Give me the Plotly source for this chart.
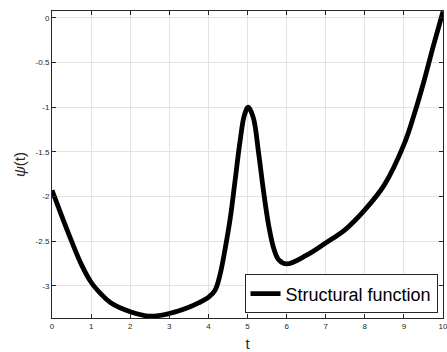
import plotly.graph_objects as go

# values
t = [0, 0.25, 0.5, 0.75, 1, 1.25, 1.5, 2, 2.5, 3, 3.5, 3.75, 4, 4.17, 4.3, 4.43, 4.56,
     4.68, 4.81, 4.92, 5.02, 5.15, 5.28, 5.41, 5.54, 5.67, 5.8, 6, 6.5, 7, 7.5, 8, 8.5,
     9, 9.25, 9.5, 9.75, 10]
psi = [-1.93, -2.22, -2.50, -2.76, -2.96, -3.09, -3.19, -3.29, -3.34, -3.31, -3.24, -3.19,
       -3.13, -3.05, -2.87, -2.58, -2.24, -1.83, -1.38, -1.09, -1.0, -1.12, -1.5, -1.94,
       -2.32, -2.58, -2.71, -2.755, -2.66, -2.52, -2.37, -2.15, -1.87, -1.42, -1.10, -0.73,
       -0.32, 0.07]

xticks = [0, 1, 2, 3, 4, 5, 6, 7, 8, 9, 10]
yticks = [0, -0.5, -1, -1.5, -2, -2.5, -3]
ylabels = ['0', '-0.5', '-1', '-1.5', '-2', '-2.5', '-3']

fig = go.Figure()
fig.add_trace(go.Scatter(
    x=t, y=psi,
    mode='lines',
    line=dict(color='black', width=4.8, shape='spline', smoothing=1.0),
    name='Structural function',
))

axis_common = dict(
    showline=True, linecolor='#262626', linewidth=1,
    mirror='ticks', ticks='inside', ticklen=4, tickcolor='#262626',
    showgrid=True, gridcolor='#e3e3e3', gridwidth=1,
    zeroline=False, automargin=False, ticklabeloverflow='allow',
    tickfont=dict(family='Liberation Sans', size=8, color='#262626'),
)

fig.update_layout(
    width=447, height=352,
    margin=dict(l=52, r=4, t=11, b=34),
    paper_bgcolor='white', plot_bgcolor='white',
    font=dict(family='Liberation Sans', color='#262626'),
    xaxis=dict(axis_common, range=[0, 10], tickvals=xticks,
               title=dict(text='t', font=dict(size=15), standoff=10)),
    yaxis=dict(axis_common, range=[-3.36, 0.076], tickvals=yticks, ticktext=ylabels,
               title=dict(text='<i>ψ</i>(t)', font=dict(size=15), standoff=6)),
    legend=dict(
        x=0.986, y=0.015, xanchor='right', yanchor='bottom',
        bgcolor='white', bordercolor='#262626', borderwidth=1,
        font=dict(family='Liberation Sans', size=18, color='black'),
        itemwidth=30, tracegroupgap=0,
    ),
    showlegend=True,
)

# drop the page's default body margin so the figure sits at the window corner
fig.write_html("out.html", config={'displayModeBar': False},
               post_script="document.body.style.margin='0';")
